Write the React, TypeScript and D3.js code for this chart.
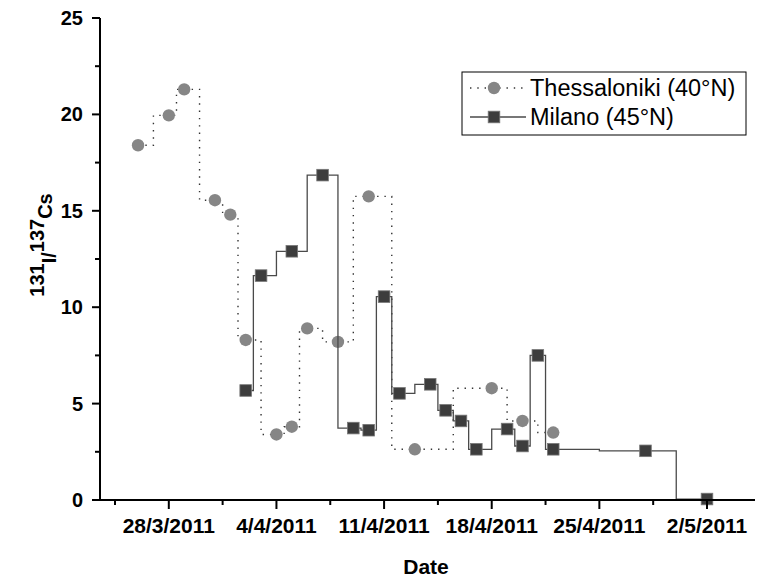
import React from 'react';
import * as d3 from 'd3';

// Thessaloniki (40°N) - dotted step line, grey circles
const thessDates = ['26/3', '28/3', '29/3', '31/3', '1/4', '2/4', '4/4', '5/4', '6/4', '8/4', '10/4', '13/4', '18/4', '20/4', '22/4'];
const thessValues = [18.4, 19.95, 21.3, 15.55, 14.8, 8.3, 3.4, 3.8, 8.9, 8.2, 15.75, 2.63, 5.8, 4.1, 3.5];

// Milano (45°N) - solid step line, dark squares
const milanoDates = ['2/4', '3/4', '5/4', '7/4', '9/4', '10/4', '11/4', '12/4', '14/4', '15/4', '16/4', '17/4', '19/4', '20/4', '21/4', '22/4', '28/4', '2/5'];
const milanoValues = [5.68, 11.64, 12.9, 16.85, 3.73, 3.62, 10.55, 5.53, 6.0, 4.65, 4.1, 2.63, 3.68, 2.8, 7.5, 2.63, 2.55, 0.05];

const xTickDates = ['28/3', '4/4', '11/4', '18/4', '25/4', '2/5'];
const xTickLabels = ['28/3/2011', '4/4/2011', '11/4/2011', '18/4/2011', '25/4/2011', '2/5/2011'];
const yTicks = [0, 5, 10, 15, 20, 25];
const yMinorTicks = [2.5, 7.5, 12.5, 17.5, 22.5];

const W = 757;
const H = 578;
const FONT = '"Liberation Sans", Arial, Helvetica, sans-serif';
const DAY = 86400000;

function parseDay(s: string) {
  const [d, m] = s.split('/').map(Number);
  return new Date(Date.UTC(2011, m - 1, d));
}

export default function App() {
  const x = d3.scaleUtc()
    .domain([parseDay('28/3'), parseDay('2/5')])
    .range([168.8, 707]);
  const y = d3.scaleLinear().domain([0, 25]).range([500, 18]);

  const axisLeft = 100;
  const axisRight = 755;

  const thess = thessDates.map((d, i) => ({ date: parseDay(d), v: thessValues[i] }));
  const milano = milanoDates.map((d, i) => ({ date: parseDay(d), v: milanoValues[i] }));

  const line = d3.line<{ date: Date; v: number }>()
    .x(d => x(d.date))
    .y(d => y(d.v))
    .curve(d3.curveStep);

  const majorX = xTickDates.map(parseDay);
  const minorX = majorX.map(d => new Date(d.getTime() - 3.5 * DAY));

  return (
    <svg width={W} height={H} style={{ position: 'absolute', left: 0, top: 0, background: '#fff' }}>
      {/* series */}
      <path d={line(thess) || ''} fill="none" stroke="#333" strokeWidth={1.4} strokeDasharray="1.4,5.9" />
      {thess.map((d, i) => (
        <circle key={'t' + i} cx={x(d.date)} cy={y(d.v)} r={6.2} fill="#868686" />
      ))}
      <path d={line(milano) || ''} fill="none" stroke="#4a4a4a" strokeWidth={1.3} />
      {milano.map((d, i) => (
        <rect key={'m' + i} x={x(d.date) - 5.8} y={y(d.v) - 5.8} width={11.6} height={11.6}
          fill="#3d3d3d" stroke="#777" strokeWidth={0.8} />
      ))}

      {/* axes */}
      <line x1={axisLeft} x2={axisRight} y1={y(0)} y2={y(0)} stroke="#000" strokeWidth={2} />
      <line x1={axisLeft} x2={axisLeft} y1={y(25)} y2={y(0)} stroke="#000" strokeWidth={2} />

      {majorX.map((d, i) => (
        <g key={'xt' + i}>
          <line x1={x(d)} x2={x(d)} y1={y(0)} y2={y(0) + 9} stroke="#000" strokeWidth={2} />
          <text x={x(d)} y={533} textAnchor="middle" fontFamily={FONT} fontWeight="bold" fontSize={21}>
            {xTickLabels[i]}
          </text>
        </g>
      ))}
      {minorX.map((d, i) => (
        <line key={'xm' + i} x1={x(d)} x2={x(d)} y1={y(0)} y2={y(0) + 5} stroke="#000" strokeWidth={2} />
      ))}

      {yTicks.map(t => (
        <g key={'yt' + t}>
          <line x1={axisLeft - 8} x2={axisLeft} y1={y(t)} y2={y(t)} stroke="#000" strokeWidth={2} />
          <text x={83} y={y(t) + 7} textAnchor="end" fontFamily={FONT} fontWeight="bold" fontSize={20}>
            {t}
          </text>
        </g>
      ))}
      {yMinorTicks.map(t => (
        <line key={'ym' + t} x1={axisLeft - 5} x2={axisLeft} y1={y(t)} y2={y(t)} stroke="#000" strokeWidth={2} />
      ))}

      {/* axis titles */}
      <text x={426} y={574} textAnchor="middle" fontFamily={FONT} fontWeight="bold" fontSize={21}>Date</text>
      <text transform="translate(44,245) rotate(-90)" textAnchor="middle" fontFamily={FONT} fontWeight="bold" fontSize={20}>
        <tspan>131</tspan>
        <tspan dy={12}>I/</tspan>
        <tspan dy={-12}>137</tspan>
        <tspan dy={8}>Cs</tspan>
      </text>

      {/* legend */}
      <rect x={462} y={72} width={284} height={63} fill="#fff" stroke="#000" strokeWidth={1} />
      <line x1={470} x2={526} y1={88} y2={88} stroke="#333" strokeWidth={1.4} strokeDasharray="1.4,5.9" />
      <circle cx={494} cy={88} r={6.2} fill="#868686" />
      <text x={530} y={96} fontFamily={FONT} fontSize={23.5}>Thessaloniki (40°N)</text>
      <line x1={470} x2={526} y1={117} y2={117} stroke="#4a4a4a" strokeWidth={1.3} />
      <rect x={494 - 5.8} y={117 - 5.8} width={11.6} height={11.6} fill="#3d3d3d" stroke="#777" strokeWidth={0.8} />
      <text x={530} y={125} fontFamily={FONT} fontSize={23.5}>Milano (45°N)</text>
    </svg>
  );
}
